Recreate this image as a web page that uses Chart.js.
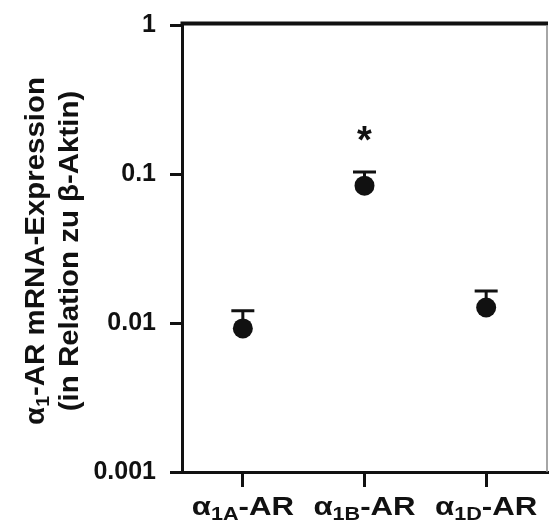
<!DOCTYPE html>
<html>
<head>
<meta charset="utf-8">
<script src="https://cdn.jsdelivr.net/npm/chart.js@4.4.1/dist/chart.umd.min.js"></script>
<style>
  html, body { margin: 0; padding: 0; background: #fff; }
  canvas { display: block; }
</style>
</head>
<body>
<canvas id="expr" width="557" height="523"></canvas>
<script>
const categories = ['α1A-AR', 'α1B-AR', 'α1D-AR'];
const means = [0.0092, 0.0835, 0.0127];
const upperErr = [0.0121, 0.103, 0.0164];
const marks = ['', '*', ''];
const yTicks = [0.001, 0.01, 0.1, 1];
const titleLines = ['α|1|-AR mRNA-Expression', '(in Relation zu β-Aktin)'];

const ink = '#111';
const fontFam = '"Liberation Sans", Arial, sans-serif';

// draws "α" + subscript + rest, horizontally centred on 0
function drawSubText(ctx, base, sub, rest, size, stretch) {
  ctx.save();
  ctx.scale(stretch, 1);
  const big = 'bold ' + size + 'px ' + fontFam;
  const small = 'bold ' + Math.round(size * 0.68) + 'px ' + fontFam;
  ctx.font = big;
  const w1 = ctx.measureText(base).width;
  const w3 = ctx.measureText(rest).width;
  ctx.font = small;
  const w2 = ctx.measureText(sub).width;
  let x = -(w1 + w2 + w3) / 2;
  ctx.textAlign = 'left';
  ctx.textBaseline = 'alphabetic';
  ctx.font = big;
  ctx.fillText(base, x, 0);
  x += w1;
  ctx.font = small;
  ctx.fillText(sub, x, size * 0.18);
  x += w2;
  ctx.font = big;
  ctx.fillText(rest, x, 0);
  ctx.restore();
}

const extras = {
  id: 'extras',
  beforeDatasetsDraw(chart) {
    const { ctx, scales: { x, y } } = chart;
    ctx.save();
    ctx.strokeStyle = ink;
    ctx.lineWidth = 3;
    means.forEach((m, i) => {
      const px = x.getPixelForValue(i);
      const top = y.getPixelForValue(upperErr[i]);
      const mid = y.getPixelForValue(m);
      ctx.beginPath();
      ctx.moveTo(px, mid);
      ctx.lineTo(px, top);
      ctx.moveTo(px - 11.5, top);
      ctx.lineTo(px + 11.5, top);
      ctx.stroke();
    });
    ctx.restore();
  },
  afterDraw(chart) {
    const { ctx, chartArea: a, scales: { x, y } } = chart;
    ctx.save();
    // frame: thick top, thin grey right
    ctx.strokeStyle = ink;
    ctx.lineWidth = 4;
    ctx.beginPath();
    ctx.moveTo(a.left - 1.5, a.top - 1.5);
    ctx.lineTo(a.right + 1, a.top - 1.5);
    ctx.stroke();
    ctx.strokeStyle = '#888';
    ctx.lineWidth = 1.5;
    ctx.beginPath();
    ctx.moveTo(a.right, a.top);
    ctx.lineTo(a.right, a.bottom);
    ctx.stroke();

    // significance marks
    ctx.fillStyle = ink;
    ctx.font = 'bold 38px ' + fontFam;
    ctx.textAlign = 'center';
    ctx.textBaseline = 'middle';
    marks.forEach((mk, i) => {
      if (!mk) return;
      ctx.fillText(mk, x.getPixelForValue(i), y.getPixelForValue(upperErr[i]) - 30);
    });

    // category labels with subscripts
    categories.forEach((c, i) => {
      const m = c.match(/^(α)(1[A-Z])(.*)$/);
      ctx.save();
      ctx.translate(x.getPixelForValue(i), 515);
      drawSubText(ctx, m[1], m[2], m[3], 26, 1.2);
      ctx.restore();
    });

    // y axis title, two lines
    titleLines.forEach((t, k) => {
      const p = t.split('|');
      ctx.save();
      ctx.translate(k === 0 ? 44 : 78, 251);
      ctx.rotate(-Math.PI / 2);
      if (p.length === 3) drawSubText(ctx, p[0], p[1], p[2], 27, 1.09);
      else drawSubText(ctx, p[0], '', '', 27, 1.09);
      ctx.restore();
    });
    ctx.restore();
  }
};

new Chart(document.getElementById('expr'), {
  type: 'line',
  data: {
    labels: categories,
    datasets: [{
      data: means,
      showLine: false,
      pointRadius: 10,
      pointHoverRadius: 10,
      pointBackgroundColor: ink,
      pointBorderColor: ink,
      pointBorderWidth: 0
    }]
  },
  options: {
    responsive: false,
    animation: false,
    layout: { padding: { top: 25, right: 2, left: 0, bottom: 0 } },
    plugins: { legend: { display: false }, tooltip: { enabled: false } },
    scales: {
      x: {
        type: 'category',
        offset: true,
        grid: { drawOnChartArea: false, color: ink, lineWidth: 3, tickLength: 15, offset: false },
        border: { color: ink, width: 3 },
        ticks: { display: false },
        afterFit: s => { s.height = 51; s.paddingLeft = 0; s.paddingRight = 0; }
      },
      y: {
        type: 'logarithmic',
        min: 0.001,
        max: 1,
        afterBuildTicks: s => { s.ticks = yTicks.map(v => ({ value: v })); },
        ticks: {
          callback: v => String(v),
          color: ink,
          font: { family: fontFam, weight: 'bold', size: 25 },
          padding: 14
        },
        grid: { drawOnChartArea: false, color: ink, lineWidth: 3, tickLength: 12 },
        border: { color: ink, width: 3 },
        afterFit: s => { s.width = 182; s.paddingTop = 0; s.paddingBottom = 0; }
      }
    }
  },
  plugins: [extras]
});
</script>
</body>
</html>
